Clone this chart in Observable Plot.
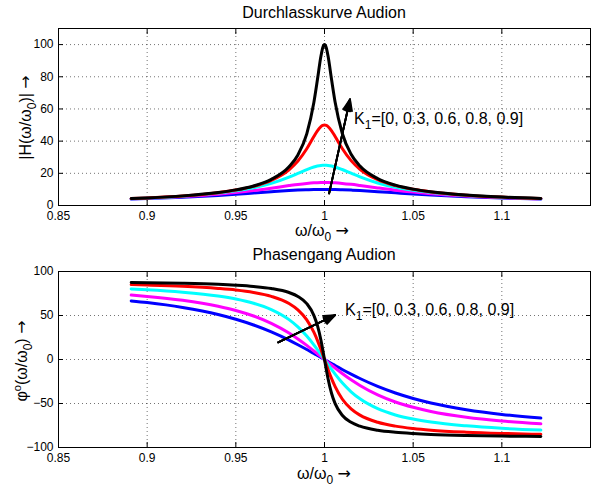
<!DOCTYPE html>
<html>
<head>
<meta charset="utf-8">
<script src="https://cdn.jsdelivr.net/npm/d3@7"></script>
<script src="https://cdn.jsdelivr.net/npm/@observablehq/plot@0.6"></script>
<style>
  body { margin: 0; background: #fff; }
  #wrap { position: relative; width: 591px; height: 491px; font-family: "Liberation Sans", Arial, sans-serif; }
  #wrap svg { position: absolute; left: 0; overflow: visible; }
</style>
</head>
<body>
<div id="wrap"></div>
<script>
// ---------- data ----------
const omega = [0.891, 0.90, 0.92, 0.94, 0.95, 0.96, 0.97, 0.98, 0.985, 0.99, 0.994, 0.996, 0.998, 0.999, 1.0,
               1.001, 1.002, 1.004, 1.006, 1.01, 1.015, 1.02, 1.03, 1.04, 1.05, 1.06, 1.08, 1.10, 1.122];
const K1 = [0, 0.3, 0.6, 0.8, 0.9];
const seriesColors = ["#0000ff", "#ff00ff", "#00ffff", "#ff0000", "#000000"];

const magK1_0  = [3.97, 4.28, 5.14, 6.28, 6.98, 7.75, 8.54, 9.27, 9.57, 9.80, 9.93, 9.97, 9.99, 10.0, 10.0,
                  10.0, 9.99, 9.97, 9.93, 9.81, 9.58, 9.30, 8.61, 7.87, 7.16, 6.51, 5.44, 4.64, 3.98];
const magK1_03 = [4.14, 4.50, 5.52, 7.03, 8.05, 9.29, 10.78, 12.37, 13.12, 13.73, 14.08, 14.19, 14.26, 14.28, 14.29,
                  14.28, 14.26, 14.19, 14.08, 13.74, 13.14, 12.43, 10.92, 9.51, 8.33, 7.35, 5.91, 4.92, 4.15];
const magK1_06 = [4.26, 4.65, 5.82, 7.69, 9.08, 10.99, 13.72, 17.59, 19.95, 22.34, 23.95, 24.51, 24.88, 24.97, 25.0,
                  24.97, 24.88, 24.51, 23.95, 22.38, 20.05, 17.77, 14.01, 11.35, 9.48, 8.11, 6.28, 5.13, 4.27];
const magK1_08 = [4.31, 4.72, 5.90, 7.97, 9.57, 11.89, 15.60, 22.18, 27.61, 35.27, 42.87, 46.42, 49.03, 49.75, 50.0,
                  49.75, 49.03, 46.43, 42.89, 35.44, 27.88, 22.54, 16.03, 12.34, 10.04, 8.45, 6.44, 5.21, 4.32];
const magK1_09 = [4.32, 4.73, 5.98, 8.05, 9.70, 12.15, 16.20, 24.03, 31.43, 44.54, 64.02, 78.09, 92.85, 98.06, 100.0,
                  98.06, 92.86, 78.15, 64.13, 44.90, 31.83, 24.48, 16.68, 12.64, 10.19, 8.54, 6.48, 5.23, 4.33];

const phaseK1_0  = [66.6, 64.7, 59.1, 51.1, 45.7, 39.2, 31.3, 22.0, 16.8, 11.4, 6.8, 4.6, 2.3, 1.1, 0,
                    -1.1, -2.3, -4.6, -6.8, -11.3, -16.6, -21.6, -30.6, -38.1, -44.3, -49.4, -57.0, -62.4, -66.6];
const phaseK1_03 = [73.2, 71.7, 67.3, 60.5, 55.7, 49.4, 41.0, 30.0, 23.3, 16.0, 9.7, 6.5, 3.3, 1.6, 0,
                    -1.6, -3.3, -6.5, -9.7, -15.9, -23.1, -29.5, -40.2, -48.3, -54.3, -59.0, -65.6, -69.9, -73.1];
const phaseK1_06 = [80.2, 79.3, 76.5, 72.1, 68.7, 63.9, 56.7, 45.3, 37.1, 26.7, 16.7, 11.3, 5.7, 2.9, 0,
                    -2.9, -5.7, -11.3, -16.6, -26.5, -36.7, -44.7, -55.9, -63.0, -67.7, -71.1, -75.4, -78.2, -80.2];
const phaseK1_08 = [85.1, 84.6, 83.2, 80.8, 79.0, 76.2, 71.8, 63.7, 56.5, 45.1, 31.0, 21.8, 11.3, 5.7, 0,
                    -5.7, -11.3, -21.8, -30.9, -44.9, -56.1, -63.2, -71.3, -75.7, -78.4, -80.3, -82.6, -84.0, -85.0];
const phaseK1_09 = [87.5, 87.3, 86.6, 85.4, 84.4, 83.0, 80.7, 76.1, 71.7, 63.5, 50.2, 38.7, 21.8, 11.3, 0,
                    -11.3, -21.8, -38.6, -50.1, -63.3, -71.4, -75.8, -80.4, -82.7, -84.1, -85.1, -86.3, -87.0, -87.5];

const xTicks = [0.85, 0.9, 0.95, 1, 1.05, 1.1];
const xTickLabels = ["0.85", "0.9", "0.95", "1", "1.05", "1.1"];
const magTicks = [0, 20, 40, 60, 80, 100];
const magTickLabels = ["0", "20", "40", "60", "80", "100"];
const phaseTicks = [-100, -50, 0, 50, 100];
const phaseTickLabels = ["\u2212100", "\u221250", "0", "50", "100"];

const titleMag = "Durchlasskurve Audion";
const titlePhase = "Phasengang Audion";
const annotationLabel = "K1=[0, 0.3, 0.6, 0.8, 0.9]";
const magArrow = [{x1: 1.0026, y1: 7.5, x2: 1.0144, y2: 66}];
const phaseArrow = [{x1: 0.9739, y1: 19.5, x2: 1.006, y2: 50.5}];
const magLabelPos = [{x: 1.0167, y: 54, label: annotationLabel}];
const phaseLabelPos = [{x: 1.0116, y: 56, label: annotationLabel}];

// ---------- build tables ----------
const magSeries = [magK1_0, magK1_03, magK1_06, magK1_08, magK1_09];
const phaseSeries = [phaseK1_0, phaseK1_03, phaseK1_06, phaseK1_08, phaseK1_09];
const magRows = [], phaseRows = [];
K1.forEach((k, i) => {
  omega.forEach((w, j) => {
    magRows.push({k, omega: w, value: magSeries[i][j]});
    phaseRows.push({k, omega: w, value: phaseSeries[i][j]});
  });
});

function panel({rows, yDomain, yTicks, yTickLabels, arrow, labelPos, height, marginTop}) {
  const inner = yTicks.filter(t => t > yDomain[0] && t < yDomain[1]);
  const grid = {stroke: "#000", strokeOpacity: 0.55, strokeDasharray: "1,3", strokeWidth: 1};
  const tickMarks = {tickSize: -5, fill: "none", label: null, stroke: "#000"};
  return Plot.plot({
    width: 591, height, marginLeft: 58, marginRight: 1, marginTop, marginBottom: 35,
    style: {fontFamily: "'Liberation Sans', Arial, sans-serif", fontSize: "12px", background: "transparent", color: "#000"},
    x: {domain: [0.85, 1.15], axis: null},
    y: {domain: yDomain, axis: null},
    color: {type: "ordinal", domain: K1, range: seriesColors},
    marks: [
      Plot.gridX({ticks: xTicks.slice(1), ...grid}),
      Plot.gridY({ticks: inner, ...grid}),
      Plot.axisX({anchor: "bottom", ticks: xTicks, ...tickMarks}),
      Plot.axisX({anchor: "top", ticks: xTicks, ...tickMarks}),
      Plot.axisY({anchor: "left", ticks: yTicks, ...tickMarks}),
      Plot.axisY({anchor: "right", ticks: yTicks, ...tickMarks}),
      Plot.axisX({anchor: "bottom", ticks: xTicks, tickSize: 0, tickPadding: 6, label: null,
                  tickFormat: d => xTickLabels[xTicks.indexOf(d)], fontSize: 12}),
      Plot.axisY({anchor: "left", ticks: yTicks, tickSize: 0, tickPadding: 5, label: null,
                  tickFormat: d => yTickLabels[yTicks.indexOf(d)], fontSize: 12}),
      Plot.line(rows, {x: "omega", y: "value", z: "k", stroke: "k", strokeWidth: 3, curve: "monotone-x"}),
      ...[44, 32, 20, 8].map(a => Plot.arrow(arrow, {x1: "x1", y1: "y1", x2: "x2", y2: "y2",
                  stroke: "#000", strokeWidth: 1.8, headLength: 10, headAngle: a})),
      Plot.text(labelPos, {x: "x", y: "y", text: "label", textAnchor: "start", fontSize: 16, fill: "#000"}),
      Plot.frame({stroke: "#000", strokeWidth: 1})
    ]
  });
}

function subscriptLabels(svg) {
  svg.querySelectorAll("text").forEach(t => {
    if (t.textContent === annotationLabel) {
      const sel = d3.select(t);
      sel.text(null);
      sel.append("tspan").text("K");
      sel.append("tspan").attr("dy", 5).attr("font-size", 12).text("1");
      sel.append("tspan").attr("dy", -5).text("=[0, 0.3, 0.6, 0.8, 0.9]");
    }
  });
}

const wrap = document.getElementById("wrap");
const p1 = panel({rows: magRows, yDomain: [0, 110], yTicks: magTicks, yTickLabels: magTickLabels,
                  arrow: magArrow, labelPos: magLabelPos, height: 240, marginTop: 28});
p1.style.top = "0px";
subscriptLabels(p1);
wrap.appendChild(p1);

const p2 = panel({rows: phaseRows, yDomain: [-100, 100], yTicks: phaseTicks, yTickLabels: phaseTickLabels,
                  arrow: phaseArrow, labelPos: phaseLabelPos, height: 237, marginTop: 26});
p2.style.top = "245px";
subscriptLabels(p2);
wrap.appendChild(p2);

// ---------- titles and axis labels ----------
const ov = d3.create("svg").attr("width", 591).attr("height", 491)
  .style("top", "0px").style("pointer-events", "none")
  .attr("font-family", "'Liberation Sans', Arial, sans-serif").attr("font-size", 16).attr("fill", "#000");

function richText(g, parts) {
  let shift = 0;
  parts.forEach(p => {
    const ts = g.append("tspan").text(p.t);
    let target = 0;
    if (p.sub) { target = 5; ts.attr("font-size", 12); }
    if (p.sup) { target = -6; ts.attr("font-size", 11); }
    if (p.arrow) { ts.attr("font-family", "'DejaVu Sans', sans-serif"); }
    if (target !== shift) { ts.attr("dy", target - shift); shift = target; }
  });
}

ov.append("text").attr("x", 324).attr("y", 18).attr("text-anchor", "middle").text(titleMag);
ov.append("text").attr("x", 324).attr("y", 260).attr("text-anchor", "middle").text(titlePhase);

const xl1 = ov.append("text").attr("x", 322).attr("y", 236).attr("text-anchor", "middle");
richText(xl1, [{t: "\u03c9/\u03c9"}, {t: "0", sub: true}, {t: " "}, {t: "\u2192", arrow: true}]);
const xl2 = ov.append("text").attr("x", 324).attr("y", 479).attr("text-anchor", "middle");
richText(xl2, [{t: "\u03c9/\u03c9"}, {t: "0", sub: true}, {t: " "}, {t: "\u2192", arrow: true}]);

const yl1 = ov.append("text").attr("transform", "translate(31,117.5) rotate(-90)").attr("text-anchor", "middle");
richText(yl1, [{t: "|H(\u03c9/\u03c9"}, {t: "0", sub: true}, {t: ")| "}, {t: "\u2192", arrow: true}]);
const yl2 = ov.append("text").attr("transform", "translate(27,361) rotate(-90)").attr("text-anchor", "middle");
richText(yl2, [{t: "\u03c6"}, {t: "o", sup: true}, {t: "(\u03c9/\u03c9"}, {t: "0", sub: true}, {t: ") "}, {t: "\u2192", arrow: true}]);

wrap.appendChild(ov.node());
</script>
</body>
</html>
